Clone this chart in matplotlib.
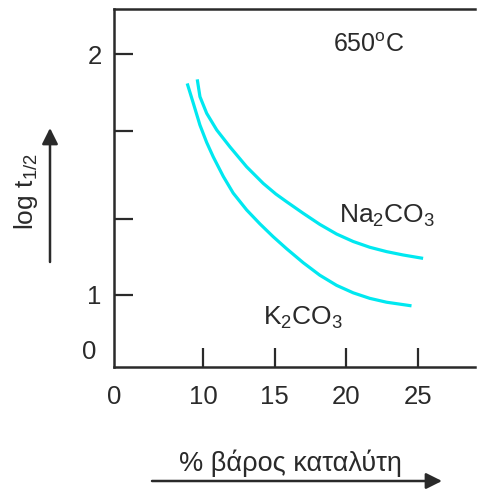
"""Schematic: log t1/2 vs catalyst weight % at 650 C."""

import matplotlib
matplotlib.use("Agg")
import matplotlib.pyplot as plt
from matplotlib.patches import FancyArrowPatch

plt.rcParams["font.family"] = ["Liberation Sans", "DejaVu Sans"]
plt.rcParams["mathtext.fontset"] = "custom"
plt.rcParams["mathtext.rm"] = "Liberation Sans"
plt.rcParams["mathtext.it"] = "Liberation Sans"

# values
k2co3_x = [8.88, 9.30, 9.77, 10.24, 10.70, 11.40, 12.09, 13.03, 13.96, 14.88,
           15.82, 16.98, 18.14, 19.31, 20.47, 21.63, 22.80, 24.54]
k2co3_y = [1.878, 1.797, 1.705, 1.633, 1.573, 1.492, 1.423, 1.353, 1.295, 1.242,
           1.192, 1.134, 1.082, 1.040, 1.009, 0.986, 0.970, 0.955]
na2co3_x = [9.58, 9.77, 10.24, 10.94, 11.86, 13.03, 14.19, 15.07, 15.82, 16.98,
            18.14, 19.31, 20.47, 21.63, 22.80, 23.96, 25.35]
na2co3_y = [1.895, 1.823, 1.754, 1.685, 1.615, 1.532, 1.463, 1.419, 1.387, 1.339,
            1.293, 1.253, 1.222, 1.198, 1.180, 1.166, 1.152]

x_ticks = [10, 15, 20, 25]
y_ticks = [1, 1.315, 1.68, 2]
y_ticklabels = ["1", "", "", "2"]

ink = "#2a2a2a"
cyan = "#00e8f0"

fig = plt.figure(figsize=(4.9, 4.92), dpi=100)
ax = fig.add_axes([0.2327, 0.254, 0.969 - 0.2327, 0.9817 - 0.254])

ax.plot(k2co3_x, k2co3_y, color=cyan, lw=2.3, solid_joinstyle="round", solid_capstyle="butt")
ax.plot(na2co3_x, na2co3_y, color=cyan, lw=2.3, solid_joinstyle="round", solid_capstyle="butt")

ax.set_xlim(3.77, 28.96)
ax.set_ylim(0.701, 2.187)

ax.set_xticks(x_ticks)
ax.set_xticklabels([str(v) for v in x_ticks])
ax.set_yticks(y_ticks)
ax.set_yticklabels(y_ticklabels)
ax.tick_params(direction="in", length=13.5, width=1.6, color=ink,
               labelsize=18.5, labelcolor=ink)
ax.tick_params(axis="x", pad=13)
ax.tick_params(axis="y", pad=9)

ax.spines["right"].set_visible(False)
for side in ("left", "top", "bottom"):
    ax.spines[side].set_linewidth(1.8)
    ax.spines[side].set_color(ink)

# the "0" labels at the origin
ax.text(-0.07, 0.042, "0", transform=ax.transAxes, fontsize=18.5, color=ink,
        ha="center", va="center")
ax.text(0.0, -0.085, "0", transform=ax.transAxes, fontsize=18.5, color=ink,
        ha="center", va="center")

ax.text(0.706, 0.899, r"650$^{\mathrm{o}}$C", transform=ax.transAxes, fontsize=18,
        color=ink, ha="center", va="center")
ax.text(0.756, 0.422, r"Na$_2$CO$_3$", transform=ax.transAxes, fontsize=19,
        color=ink, ha="center", va="center")
ax.text(0.524, 0.137, r"K$_2$CO$_3$", transform=ax.transAxes, fontsize=19,
        color=ink, ha="center", va="center")

# axis captions with arrows
fig.text(290 / 490, 1 - 463 / 492, "% βάρος καταλύτη", fontsize=19.5, color=ink,
         ha="center", va="center")
fig.text(26 / 490, 1 - 192 / 492, r"log t$_{1/2}$", fontsize=19, color=ink,
         ha="center", va="center", rotation=90)
arrow = dict(arrowstyle="-|>", mutation_scale=24, lw=1.8, color=ink, shrinkA=0, shrinkB=0)
fig.add_artist(FancyArrowPatch((152 / 490, 1 - 481 / 492), (442 / 490, 1 - 481 / 492),
                               transform=fig.transFigure, **arrow))
fig.add_artist(FancyArrowPatch((50 / 490, 1 - 262 / 492), (50 / 490, 1 - 128 / 492),
                               transform=fig.transFigure, **arrow))

fig.savefig("out.png", dpi=100, facecolor="white")
